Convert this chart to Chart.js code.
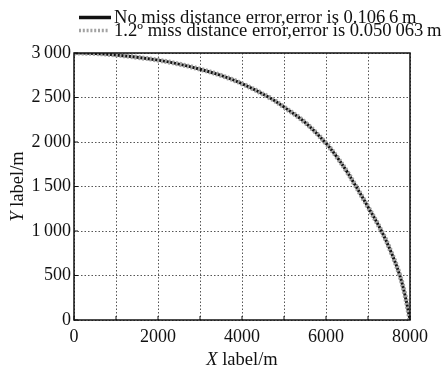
<!DOCTYPE html>
<html>
<head>
<meta charset="utf-8">
<script src="https://cdn.jsdelivr.net/npm/chart.js@4/dist/chart.umd.min.js"></script>
<style>
  html, body { margin: 0; padding: 0; background: #ffffff; }
  #wrap { width: 446px; height: 372px; position: relative; }
</style>
</head>
<body>
<div id="wrap"><canvas id="c"></canvas></div>
<script>
// Trajectory samples (metres)
const xValues = [0, 500, 1000, 1500, 2000, 2500, 3000, 3500, 4000, 4650, 5000, 5500, 6000, 6254, 6492, 6674, 7000, 7326, 7548, 7745, 7881, 8000];
const yNoError = [3000, 2995, 2978, 2952, 2920, 2875, 2818, 2748, 2655, 2500, 2392, 2220, 1985, 1835, 1672, 1532, 1270, 995, 765, 520, 280, 0];
const yWithError = [3000, 2995, 2978, 2952, 2920, 2875, 2818, 2748, 2655, 2500, 2392, 2220, 1985, 1835, 1672, 1532, 1270, 995, 765, 520, 280, 0];
const seriesLabels = ['No miss distance error,error is 0.106\u20096\u2009m', '1.2\u00ba miss distance error,error is 0.050\u2009063\u2009m'];
const xTicks = [0, 2000, 4000, 6000, 8000];
const yTicks = [0, 500, 1000, 1500, 2000, 2500, 3000];

const SERIF = "'Liberation Serif', 'Times New Roman', serif";
Chart.defaults.font.family = SERIF;
Chart.defaults.color = '#111';

const toPoints = ys => xValues.map((x, i) => ({ x: x, y: ys[i] }));

const fmt = v => {
  const s = String(v);
  return s.length > 3 ? s.slice(0, s.length - 3) + '\u2009' + s.slice(-3) : s;
};

// Box around the plot, inward tick marks, legend and axis titles
const framePlugin = {
  id: 'frame',
  afterDatasetsDraw(chart) {
    const { ctx, chartArea: a, scales } = chart;
    ctx.save();
    ctx.strokeStyle = '#111';
    ctx.lineWidth = 1.5;
    ctx.strokeRect(a.left, a.top, a.right - a.left, a.bottom - a.top);
    ctx.lineWidth = 1;
    ctx.beginPath();
    scales.x.ticks.forEach(t => {
      const px = scales.x.getPixelForValue(t.value);
      ctx.moveTo(px, a.bottom); ctx.lineTo(px, a.bottom - 4);
    });
    scales.y.ticks.forEach(t => {
      const py = scales.y.getPixelForValue(t.value);
      ctx.moveTo(a.left, py); ctx.lineTo(a.left + 4, py);
    });
    ctx.stroke();
    ctx.restore();
  },
  afterDraw(chart) {
    const { ctx, chartArea: a } = chart;
    ctx.save();
    // legend
    const ds = chart.data.datasets;
    const rows = [17.5, 30.5];
    ds.forEach((d, i) => {
      const y = rows[i];
      ctx.beginPath();
      ctx.strokeStyle = d.borderColor;
      ctx.lineWidth = 3.5;
      ctx.setLineDash(d.borderDash || []);
      ctx.moveTo(79, y);
      ctx.lineTo(i === 0 ? 111 : 108, y);
      ctx.stroke();
      ctx.setLineDash([]);
      ctx.fillStyle = '#111';
      ctx.font = '18.6px ' + SERIF;
      ctx.textBaseline = 'middle';
      ctx.textAlign = 'left';
      ctx.fillText(d.label, 114, y + 1);
    });

    // axis titles: italic variable letter followed by upright text
    const drawTitle = (x, y, letter, rest) => {
      ctx.font = 'italic 18.5px ' + SERIF;
      const w1 = ctx.measureText(letter + ' ').width;
      ctx.font = '18.5px ' + SERIF;
      const w2 = ctx.measureText(rest).width;
      const start = x - (w1 + w2) / 2;
      ctx.textBaseline = 'middle';
      ctx.textAlign = 'left';
      ctx.font = 'italic 18.5px ' + SERIF;
      ctx.fillText(letter, start, y);
      ctx.font = '18.5px ' + SERIF;
      ctx.fillText(rest, start + w1, y);
    };
    ctx.fillStyle = '#111';
    drawTitle((a.left + a.right) / 2, 360, 'X', 'label/m');
    ctx.translate(18, (a.top + a.bottom) / 2);
    ctx.rotate(-Math.PI / 2);
    drawTitle(0, 0, 'Y', 'label/m');
    ctx.restore();
  }
};

new Chart(document.getElementById('c'), {
  type: 'line',
  data: {
    datasets: [
      {
        label: seriesLabels[0],
        data: toPoints(yNoError),
        borderColor: '#111111',
        borderWidth: 3,
        pointRadius: 0,
        tension: 0.4,
        order: 2
      },
      {
        label: seriesLabels[1],
        data: toPoints(yWithError),
        borderColor: '#a3a3a3',
        borderWidth: 5,
        borderDash: [2, 1.8],
        pointRadius: 0,
        tension: 0.4,
        order: 1
      }
    ]
  },
  options: {
    responsive: true,
    maintainAspectRatio: false,
    animation: false,
    events: [],
    layout: { padding: { top: 53, right: 36, left: 0, bottom: 0 } },
    plugins: { legend: { display: false }, tooltip: { enabled: false } },
    scales: {
      x: {
        type: 'linear',
        min: 0,
        max: 8000,
        afterFit(s) { s.height = 52; },
        afterBuildTicks(s) {
          const t = [];
          for (let v = 0; v <= 8000; v += 1000) t.push({ value: v });
          s.ticks = t;
        },
        border: { display: false, dash: [1.5, 2] },
        grid: {
          color: '#555',
          lineWidth: 1,
          drawTicks: false
        },
        ticks: {
          autoSkip: false,
          maxRotation: 0,
          padding: 6,
          color: '#111',
          font: { size: 18, family: SERIF },
          callback: v => xTicks.includes(v) ? String(v) : ''
        }
      },
      y: {
        type: 'linear',
        min: 0,
        max: 3000,
        afterFit(s) { s.width = 74; },
        afterBuildTicks(s) { s.ticks = yTicks.map(v => ({ value: v })); },
        border: { display: false, dash: [1.5, 2] },
        grid: {
          color: '#555',
          lineWidth: 1,
          drawTicks: false
        },
        ticks: {
          padding: 3,
          color: '#111',
          font: { size: 18, family: SERIF },
          callback: v => fmt(v)
        }
      }
    }
  },
  plugins: [framePlugin]
});
</script>
</body>
</html>
